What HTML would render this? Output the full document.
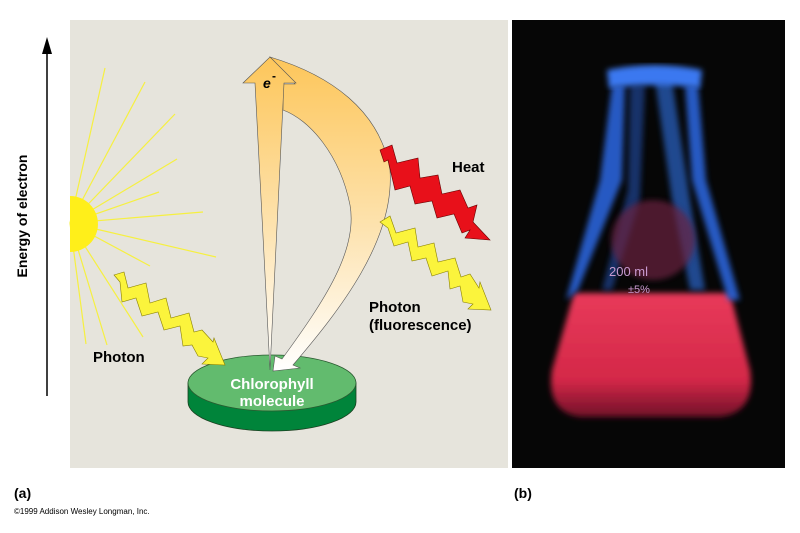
<!DOCTYPE html>
<html><head><style>
body{margin:0;width:800px;height:528px;background:#fff;overflow:hidden;font-family:"Liberation Sans",sans-serif}
</style></head><body>
<svg width="800" height="528" viewBox="0 0 800 528" xmlns="http://www.w3.org/2000/svg" font-family="Liberation Sans, sans-serif">
<defs>
<linearGradient id="og" x1="0" y1="0" x2="0" y2="1">
<stop offset="0" stop-color="#fdc65a"/><stop offset="0.55" stop-color="#fde3b0"/><stop offset="1" stop-color="#ffffff"/>
</linearGradient>
<linearGradient id="liq" x1="0" y1="0" x2="0" y2="1"><stop offset="0" stop-color="#e83a5a"/><stop offset="0.7" stop-color="#d42848"/><stop offset="1" stop-color="#701028"/></linearGradient>
<filter id="bl"><feGaussianBlur stdDeviation="3"/></filter>
</defs>
<rect x="70" y="20" width="438" height="448" fill="#e6e4dc"/>
<!-- axis -->
<line x1="47" y1="396" x2="47" y2="50" stroke="#000" stroke-width="1.5"/>
<polygon points="47,37 42,54 52,54" fill="#000"/>
<text x="0" y="0" transform="translate(27,216) rotate(-90)" text-anchor="middle" font-size="14" font-weight="bold">Energy of electron</text>
<!-- sun rays -->
<g stroke="#f6f040" stroke-width="1.2">
<line x1="70" y1="223" x2="105" y2="68"/><line x1="70" y1="223" x2="145" y2="82"/>
<line x1="70" y1="223" x2="175" y2="114"/><line x1="70" y1="223" x2="177" y2="159"/>
<line x1="70" y1="223" x2="159" y2="192"/><line x1="70" y1="223" x2="203" y2="212"/>
<line x1="70" y1="223" x2="216" y2="257"/><line x1="70" y1="223" x2="150" y2="266"/>
<line x1="70" y1="223" x2="143" y2="337"/><line x1="70" y1="223" x2="107" y2="345"/>
<line x1="70" y1="223" x2="86" y2="344"/>
</g>
<path d="M70,196 A28,28 0 0 1 70,252 Z" fill="#ffef1a"/>
<!-- green disc -->
<path d="M188,383 L188,402 A84,29 0 0 0 356,402 L356,383 Z" fill="#00843a" stroke="#1a4020" stroke-width="0.8"/>
<ellipse cx="272" cy="383" rx="84" ry="28" fill="#62bb6e" stroke="#2a5a30" stroke-width="0.8"/>
<text x="272" y="389" text-anchor="middle" font-size="15" font-weight="bold" fill="#fff">Chlorophyll</text>
<text x="272" y="406" text-anchor="middle" font-size="15" font-weight="bold" fill="#fff">molecule</text>
<!-- curved arrow -->
<path d="M270,57 C330,75 380,110 390,170 C395,240 340,310 293,365 L300,368 L273,371 L275,356 L282,359 C325,300 358,250 350,205 C340,155 310,120 283,110 L283,84 L295,84 Z" fill="url(#og)" stroke="#555" stroke-width="0.6"/>
<!-- up arrow -->
<path d="M270,57 L296,83 L284,83 L270,370 L255,83 L243,83 Z" fill="url(#og)" stroke="#555" stroke-width="0.6"/>
<text x="263" y="88" font-size="14" font-weight="bold" font-style="italic">e</text>
<text x="272" y="80" font-size="12" font-weight="bold">-</text>
<!-- zigzags -->
<path d="M380,150 L392,145 L397,163 L418,158 L420,178 L438,175 L442,194 L460,190 L468,208 L477,205 L473,222 L490,240 L465,238 L470,230 L462,233 L454,214 L437,218 L432,201 L415,204 L410,186 L395,190 L388,160 L384,162 Z" fill="#e8101a" stroke="#600" stroke-width="0.6"/>
<path d="M380,222 L390,216 L396,233 L415,228 L418,247 L434,243 L438,262 L455,258 L461,277 L470,274 L479,288 L480,282 L491,310 L468,309 L473,304 L463,302 L460,286 L450,289 L448,271 L432,276 L426,258 L412,261 L408,242 L394,246 L388,228 Z" fill="#fbf43c" stroke="#8a8000" stroke-width="0.6"/>
<path d="M114,275 L124,272 L128,288 L146,283 L150,303 L166,298 L171,318 L189,313 L194,332 L202,330 L213,342 L214,338 L225,365 L202,364 L208,358 L198,356 L192,345 L183,346 L180,326 L164,330 L158,312 L142,316 L136,298 L122,302 L120,282 Z" fill="#fbf43c" stroke="#8a8000" stroke-width="0.6"/>
<text x="452" y="172" font-size="15" font-weight="bold">Heat</text>
<text x="369" y="312" font-size="15" font-weight="bold">Photon</text>
<text x="369" y="330" font-size="15" font-weight="bold">(fluorescence)</text>
<text x="93" y="362" font-size="15" font-weight="bold">Photon</text>
<!-- photo -->
<rect x="512" y="20" width="273" height="448" fill="#060606"/>
<!-- liquid -->
<path d="M574,293 L730,293 L750,370 Q756,412 720,417 L580,417 Q546,412 552,370 Z" fill="url(#liq)" filter="url(#bl)"/>
<!-- glass blue sides -->
<g filter="url(#bl)" opacity="0.9">
<path d="M612,85 L625,85 L622,180 L578,290 L566,300 L600,180 Z" fill="#2c64d8"/>
<path d="M685,85 L698,85 L706,180 L740,300 L728,300 L692,180 Z" fill="#2c64d8"/>
<path d="M655,80 L672,80 L690,200 L705,290 L690,290 L672,200 Z" fill="#3070e0" opacity="0.7"/>
<path d="M630,85 L645,85 L640,200 L612,290 L602,290 L628,190 Z" fill="#2458c0" opacity="0.6"/>
</g>
<ellipse cx="653" cy="240" rx="42" ry="40" fill="#6a2040" opacity="0.7" filter="url(#bl)"/>
<path d="M607,70 Q655,60 702,70 L700,88 Q655,82 609,88 Z" fill="#3a78f0" filter="url(#bl)"/>
<text x="609" y="276" font-size="13" fill="#c89ad0">200 ml</text>
<text x="628" y="293" font-size="11" fill="#c89ad0">±5%</text>
<text x="14" y="498" font-size="14" font-weight="bold">(a)</text>
<text x="514" y="498" font-size="14" font-weight="bold">(b)</text>
<text x="14" y="514" font-size="8">©1999 Addison Wesley Longman, Inc.</text>
</svg>
</body></html>
